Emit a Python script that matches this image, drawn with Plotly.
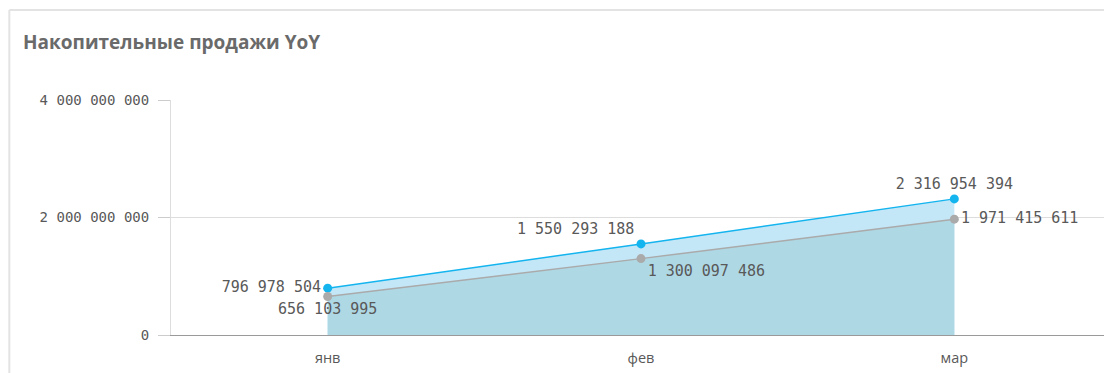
import plotly.graph_objects as go

months = ["янв", "фев", "мар"]
sales_current = [796978504, 1550293188, 2316954394]
sales_previous = [656103995, 1300097486, 1971415611]
y_ticks = [0, 2000000000, 4000000000]


def fmt(v):
    return f"{v:,}".replace(",", " ")


mono = "DejaVu Sans Mono"

fig = go.Figure()

fig.add_trace(go.Scatter(
    x=months, y=sales_current,
    mode="lines+markers+text",
    line=dict(color="#14b4ef", width=1.5),
    marker=dict(color="#14b4ef", size=9),
    fill="tozeroy", fillcolor="#c4e7f7",
    text=[fmt(v) for v in sales_current],
    textposition=["middle left", "top left", "top center"],
    textfont=dict(family=mono, size=15, color="#595959"),
    cliponaxis=False,
    showlegend=False,
))

fig.add_trace(go.Scatter(
    x=months, y=sales_previous,
    mode="lines+markers+text",
    line=dict(color="#aaaaaa", width=1.5),
    marker=dict(color="#aaaaaa", size=9),
    fill="tozeroy", fillcolor="#afd8e5",
    text=[fmt(v) for v in sales_previous],
    textposition=["bottom center", "bottom right", "middle right"],
    textfont=dict(family=mono, size=15, color="#595959"),
    cliponaxis=False,
    showlegend=False,
))

# card border (top and left edges)
fig.add_shape(type="line", xref="paper", yref="paper",
              x0=-0.172, x1=1.01, y0=1.383, y1=1.383,
              line=dict(color="#e3e3e3", width=2))
fig.add_shape(type="line", xref="paper", yref="paper",
              x0=-0.172, x1=-0.172, y0=1.383, y1=-0.2,
              line=dict(color="#e3e3e3", width=2))

fig.update_layout(
    width=1104, height=365,
    margin=dict(l=163, r=1, t=92, b=38),
    paper_bgcolor="white",
    plot_bgcolor="white",
    title=dict(
        text="<b>Накопительные продажи YoY</b>",
        x=15 / 1104, xanchor="left",
        y=1 - 34 / 365, yanchor="middle",
        font=dict(family="Open Sans", size=19, color="#6a6a6a"),
    ),
    xaxis=dict(
        range=[-0.5, 2.5],
        showgrid=False,
        showline=True, linecolor="#9a9a9a", linewidth=1,
        ticks="", tickfont=dict(family="Open Sans", size=14.5, color="#595959"),
        ticklabelstandoff=10,
    ),
    yaxis=dict(
        range=[0, 4000000000],
        tickvals=y_ticks,
        ticktext=[fmt(v) for v in y_ticks],
        showgrid=True, gridcolor="#dddddd", gridwidth=1,
        showline=True, linecolor="#dddddd", linewidth=1,
        zeroline=False,
        ticks="outside", ticklen=12, tickcolor="#cccccc",
        tickfont=dict(family=mono, size=14, color="#595959"),
        ticklabelstandoff=6,
    ),
)

fig.write_html("out.html")
